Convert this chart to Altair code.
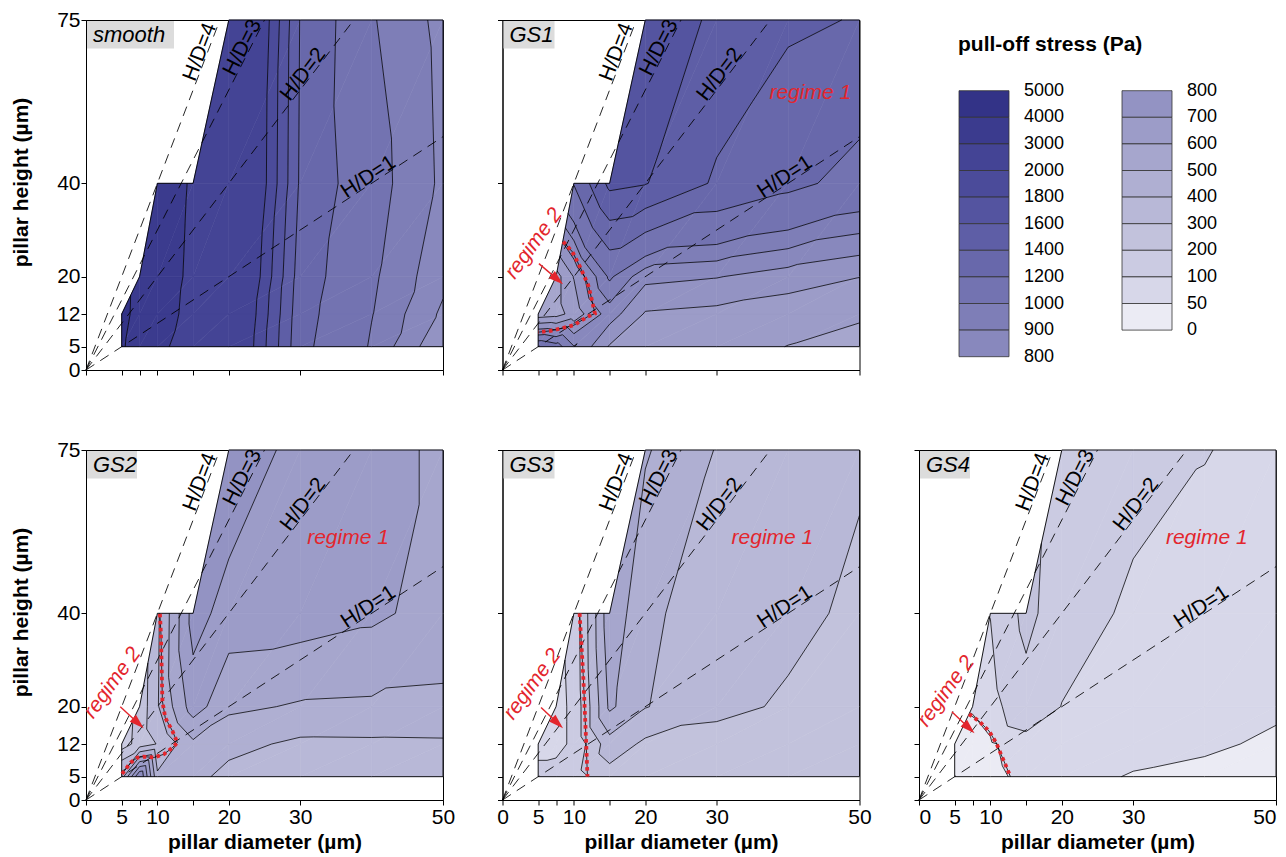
import math
import altair as alt
import pandas as pd

FONT = "Liberation Sans"
RED = "#e3262d"

# ---------------- measurement grid ----------------
D_NODES = [5, 7.5, 10, 15, 20, 30, 40, 50]      # pillar diameter (um)
H_NODES = [5, 12, 20, 40, 75]                   # pillar height (um)
N = None                                        # not fabricated

# pull-off stress (Pa), one row per height (H_NODES), one column per diameter
SMOOTH = [
    [4150, 3400, 3100, 2800, 2400, 1250, 985, 710],
    [4450, 3500, 3150, 2900, 2450, 1270, 1005, 780],
    [N, 3550, 3200, 2920, 2550, 1300, 1020, 830],
    [N, N, 3250, 2950, 2700, 1370, 1050, 880],
    [N, N, N, N, 2800, 1390, 1010, 870],
]
GS1 = [
    [1100, 1050, 905, 690, 660, 640, 598, 560],
    [540, 560, 640, 850, 690, 670, 640, 615],
    [N, 560, 705, 1020, 830, 805, 750, 702],
    [N, N, 1210, 1650, 1610, 1370, 1250, 1130],
    [N, N, N, N, 1750, 1560, 1430, 1390],
]
GS2 = [
    [450, 905, 420, 430, 370, 350, 345, 340],
    [150, 240, 305, 480, 430, 380, 382, 385],
    [N, 230, 390, 650, 520, 490, 485, 480],
    [N, N, 380, 740, 660, 650, 620, 560],
    [N, N, N, N, 780, 660, 620, 590],
]
GS3 = [
    [130, 140, 160, 260, 240, 230, 220, 210],
    [70, 70, 120, 360, 280, 270, 255, 240],
    [N, 70, 120, 520, 405, 320, 290, 270],
    [N, N, 130, 570, 424, 340, 320, 285],
    [N, N, N, N, 510, 395, 350, 310],
]
GS4 = [
    [25, 30, 40, 60, 60, 48, 42, 35],
    [25, 30, 45, 70, 75, 60, 55, 45],
    [N, 55, 70, 160, 98, 75, 65, 55],
    [N, N, 102, 230, 140, 85, 80, 70],
    [N, N, N, N, 160, 130, 102, 85],
]

# contour levels (Pa) and band colours (band i = LEVELS[i]..LEVELS[i+1])
LEVELS = [0, 50, 100, 200, 300, 400, 500, 600, 700, 800, 900, 1000,
          1200, 1400, 1600, 1800, 2000, 3000, 4000, 5000]
BAND_COLORS = [
    "#ebebf4", "#d7d7e9", "#cbcbe2", "#c2c2dc", "#b8b8d7", "#afafd2",
    "#a6a6cd", "#9c9cc8", "#9393c3", "#8888bd", "#7e7eb7", "#7373b1",
    "#6868ab", "#5e5ea6", "#5454a0", "#4b4b9a", "#444495", "#3b3b8e",
    "#333387",
]

# aspect-ratio guide lines
HD_RATIOS = [1, 2, 3, 4]
HD_LABEL_D = [40.1, 31.2, 22.8, 16.9]

XTICKS = [0, 5, 7.5, 10, 15, 20, 30, 50]
YTICKS = [0, 5, 12, 20, 40, 75]

# regime-2 boundary (red dotted) paths
RED_GS1_D = [8.5, 9.8, 10.95, 12.0, 12.35, 12.95, 11.9, 10.0, 8.15, 6.75, 5.0]
RED_GS1_H = [27.5, 25.3, 21.8, 18.2, 16.1, 12.1, 11.4, 9.6, 8.9, 8.4, 8.1]
RED_GS2_D = [10.35, 10.5, 10.7, 11.1, 12.1, 12.8, 12.1, 10.9, 9.5, 8.1, 7.2, 6.25, 5.0]
RED_GS2_H = [39.9, 35.5, 21.2, 17.6, 14.8, 12.3, 11.2, 9.8, 9.1, 9.3, 9.1, 8.0, 5.5]
RED_GS3_D = [10.8, 11.3, 11.65, 11.9]
RED_GS3_H = [40.0, 26.9, 14.8, 5.0]
RED_GS4_D = [7.0, 8.4, 9.8, 10.8, 11.4, 12.1, 12.8]
RED_GS4_H = [18.4, 16.9, 14.8, 12.3, 10.1, 7.6, 5.0]

# arrows (start D, start H, end D, end H)
ARROW_GS1 = [5.1, 22.8, 8.4, 18.5]
ARROW_GS2 = [4.8, 20.0, 8.0, 15.5]
ARROW_GS3 = [5.4, 19.8, 8.4, 15.5]
ARROW_GS4 = [4.6, 18.9, 7.7, 14.4]

# label centres (D, H)
REG2_GS1 = [4.4, 27.1]
REG2_GS2 = [3.7, 25.1]
REG2_GS3 = [4.2, 24.8]
REG2_GS4 = [3.8, 23.3]
REG1_GS1 = [43.1, 59.3]
REG1_GS2 = [36.7, 56.1]
REG1_GS3 = [37.8, 56.1]
REG1_GS4 = [40.3, 56.1]

W, HGT = 357, 350
KX, KY = W / 50.0, HGT / 75.0


# ---------------- triangulated linear contouring ----------------
def tri_list(grid):
    out = []
    for j in range(len(H_NODES) - 1):
        for i in range(len(D_NODES) - 1):
            a, b, c, d = (i, j), (i + 1, j), (i + 1, j + 1), (i, j + 1)
            for tri in ((a, b, c), (a, c, d)):
                if all(grid[q][p] is not None for p, q in tri):
                    out.append([(D_NODES[p], H_NODES[q], float(grid[q][p])) for p, q in tri])
    return out


def clip(poly, level, above):
    res = []
    n = len(poly)
    for k in range(n):
        p, q = poly[k], poly[(k + 1) % n]
        pin = (p[2] >= level) if above else (p[2] <= level)
        qin = (q[2] >= level) if above else (q[2] <= level)
        if pin:
            res.append(p)
        if pin != qin:
            t = (level - p[2]) / (q[2] - p[2])
            res.append((p[0] + t * (q[0] - p[0]), p[1] + t * (q[1] - p[1]), level))
    return res


def poly_area(poly):
    s = 0.0
    for k in range(len(poly)):
        x1, y1 = poly[k][0], poly[k][1]
        x2, y2 = poly[(k + 1) % len(poly)][0], poly[(k + 1) % len(poly)][1]
        s += x1 * y2 - x2 * y1
    return abs(s) / 2


def fill_rows(tris):
    rows = []
    pid = 0
    for tri in tris:
        for b in range(len(LEVELS) - 1):
            poly = clip(clip(tri, LEVELS[b], True), LEVELS[b + 1], False)
            if len(poly) >= 3 and poly_area(poly) > 1e-6:
                for k, pt in enumerate(poly + [poly[0]]):
                    rows.append(dict(pid=pid, k=k, x=pt[0], y=pt[1], band=b))
                pid += 1
    return pd.DataFrame(rows)


def seg_rows(tris):
    rows = []
    for tri in tris:
        for lev in LEVELS[1:-1]:
            pts = []
            for k in range(3):
                p, q = tri[k], tri[(k + 1) % 3]
                if (p[2] - lev) * (q[2] - lev) < 0:
                    t = (lev - p[2]) / (q[2] - p[2])
                    pts.append((p[0] + t * (q[0] - p[0]), p[1] + t * (q[1] - p[1])))
            if len(pts) == 2:
                rows.append(dict(x=pts[0][0], y=pts[0][1], x2=pts[1][0], y2=pts[1][1]))
    return pd.DataFrame(rows, columns=["x", "y", "x2", "y2"])


def edge_rows(tris):
    cnt = {}
    for tri in tris:
        for k in range(3):
            p, q = tri[k][:2], tri[(k + 1) % 3][:2]
            key = tuple(sorted([p, q]))
            cnt[key] = cnt.get(key, 0) + 1
    rows = [dict(x=a[0], y=a[1], x2=b[0], y2=b[1]) for (a, b), c in cnt.items() if c == 1]
    return pd.DataFrame(rows)


BAND_SCALE = alt.Scale(domain=list(range(len(BAND_COLORS))), range=BAND_COLORS)


def make_panel(name, grid, box_w, red=None, arrow=None, reg2=None, reg1=None,
               xlab=False, ylab=False, flush=False):
    tris = tri_list(grid)
    xs = alt.Scale(domain=[0, 50], nice=False, zero=False)
    ys = alt.Scale(domain=[0, 75], nice=False, zero=False)
    xaxis = alt.Axis(values=XTICKS, labels=xlab, labelFlush=flush,
                     title="pillar diameter (µm)" if xlab else None,
                     labelExpr="(datum.value == 7.5 || datum.value == 15) ? '' : datum.label")
    yaxis = alt.Axis(values=YTICKS, labels=ylab,
                     title="pillar height (µm)" if ylab else None, titleY=162)

    def X(f):
        return alt.X(f, type="quantitative", scale=xs, axis=xaxis)

    def Y(f):
        return alt.Y(f, type="quantitative", scale=ys, axis=yaxis)

    layers = []
    fills = fill_rows(tris)
    layers.append(
        alt.Chart(fills).mark_line(strokeWidth=0.6, strokeJoin="round").encode(
            x=X("x"), y=Y("y"), detail="pid:N", order="k:Q",
            fill=alt.Fill("band:N", scale=BAND_SCALE, legend=None),
            stroke=alt.Stroke("band:N", scale=BAND_SCALE, legend=None),
        )
    )
    layers.append(
        alt.Chart(seg_rows(tris)).mark_rule(color="black", strokeWidth=0.75).encode(
            x=X("x"), y=Y("y"), x2="x2", y2="y2")
    )
    layers.append(
        alt.Chart(edge_rows(tris)).mark_rule(color="black", strokeWidth=0.9).encode(
            x=X("x"), y=Y("y"), x2="x2", y2="y2")
    )
    # H/D guide lines
    hd = pd.DataFrame({
        "x": [0.0] * 4, "y": [0.0] * 4,
        "x2": [min(50.0, 75.0 / r) for r in HD_RATIOS],
        "y2": [r * min(50.0, 75.0 / r) for r in HD_RATIOS],
    })
    layers.append(
        alt.Chart(hd).mark_rule(color="black", strokeWidth=0.85, strokeDash=[10, 7]).encode(
            x=X("x"), y=Y("y"), x2="x2", y2="y2")
    )
    hdl = pd.DataFrame({
        "x": HD_LABEL_D,
        "y": [r * d for r, d in zip(HD_RATIOS, HD_LABEL_D)],
        "t": ["H/D=%d" % r for r in HD_RATIOS],
        "ang": [360 - math.degrees(math.atan(r * KY / KX)) for r in HD_RATIOS],
    })
    layers.append(
        alt.Chart(hdl).mark_text(font=FONT, fontSize=21, baseline="alphabetic",
                                 align="center", dy=-1, clip=True).encode(
            x=X("x"), y=Y("y"), text="t:N", angle=alt.Angle("ang:Q", scale=None))
    )
    if red is not None:
        rd = pd.DataFrame({"x": red[0], "y": red[1], "k": list(range(len(red[0])))})
        layers.append(alt.Chart(rd).mark_line(color="black", strokeWidth=0.8).encode(
            x=X("x"), y=Y("y"), order="k:Q"))
        layers.append(alt.Chart(rd).mark_line(color=RED, strokeWidth=3.8,
                                              strokeDash=[3.5, 3.5]).encode(
            x=X("x"), y=Y("y"), order="k:Q"))
    if arrow is not None:
        x0, y0, x1, y1 = arrow
        dxp, dyp = (x1 - x0) * KX, (y1 - y0) * KY
        L = math.hypot(dxp, dyp)
        ux, uy = dxp / L, dyp / L
        head = 7.0
        ar = pd.DataFrame({"x": [x0], "y": [y0], "x2": [x1 - ux * head / KX],
                           "y2": [y1 - uy * head / KY]})
        layers.append(alt.Chart(ar).mark_rule(color=RED, strokeWidth=1.4).encode(
            x=X("x"), y=Y("y"), x2="x2", y2="y2"))
        ang = (90 + math.degrees(math.atan2(-dyp, dxp))) % 360
        ah = pd.DataFrame({"x": [x1 - ux * head / KX], "y": [y1 - uy * head / KY], "ang": [ang]})
        layers.append(alt.Chart(ah).mark_point(
            shape="M0,-1L0.6,0.9L-0.6,0.9Z", filled=True, color=RED, size=240, opacity=1
        ).encode(x=X("x"), y=Y("y"), angle=alt.Angle("ang:Q", scale=None)))
    if reg2 is not None:
        t2 = pd.DataFrame({"x": [reg2[0]], "y": [reg2[1]], "t": ["regime 2"]})
        layers.append(alt.Chart(t2).mark_text(
            font=FONT, fontSize=21, fontStyle="italic", color=RED, angle=306,
            align="center", baseline="middle", clip=True).encode(x=X("x"), y=Y("y"), text="t:N"))
    if reg1 is not None:
        t1 = pd.DataFrame({"x": [reg1[0]], "y": [reg1[1]], "t": ["regime 1"]})
        layers.append(alt.Chart(t1).mark_text(
            font=FONT, fontSize=21, fontStyle="italic", color=RED,
            align="center", baseline="middle").encode(x=X("x"), y=Y("y"), text="t:N"))
    # panel name tag
    tag = pd.DataFrame({"t": [name]})
    layers.append(alt.Chart(tag).mark_rect(color="#dcdcdc").encode(
        x=alt.value(1), x2=alt.value(box_w), y=alt.value(1), y2=alt.value(28.5)))
    layers.append(alt.Chart(tag).mark_text(
        font=FONT, fontSize=22, fontStyle="italic", align="left", baseline="middle",
        color="black").encode(x=alt.value(7), y=alt.value(15), text="t:N"))
    return alt.layer(*layers).properties(width=W, height=HGT)


def make_legend():
    LW, LH = 330, 350
    top, bh, bw = 70.7, 26.6, 50
    lx, rx = 40, 203
    rows = []
    for s in range(10):
        rows.append(dict(x=lx, x2=lx + bw, y=top + s * bh, y2=top + (s + 1) * bh, band=18 - s))
    for s in range(9):
        rows.append(dict(x=rx, x2=rx + bw, y=top + s * bh, y2=top + (s + 1) * bh, band=8 - s))
    boxes = pd.DataFrame(rows)
    labs = []
    for s in range(11):
        labs.append(dict(x=lx + bw + 15, y=top + s * bh, t=str(LEVELS[19 - s])))
    for s in range(10):
        labs.append(dict(x=rx + bw + 15, y=top + s * bh, t=str(LEVELS[9 - s])))
    labs = pd.DataFrame(labs)
    xs = alt.Scale(domain=[0, LW], nice=False, zero=False)
    ys = alt.Scale(domain=[0, LH], nice=False, zero=False, reverse=True)
    b = alt.Chart(boxes).mark_rect(stroke="#333333", strokeWidth=0.8).encode(
        x=alt.X("x:Q", scale=xs, axis=None), x2="x2",
        y=alt.Y("y:Q", scale=ys, axis=None), y2="y2",
        fill=alt.Fill("band:N", scale=BAND_SCALE, legend=None))
    t = alt.Chart(labs).mark_text(font=FONT, fontSize=18, align="left", baseline="middle",
                                  color="black").encode(
        x=alt.X("x:Q", scale=xs, axis=None), y=alt.Y("y:Q", scale=ys, axis=None), text="t:N")
    ttl = alt.Chart(pd.DataFrame({"x": [39], "y": [31], "t": ["pull-off stress (Pa)"]})).mark_text(
        font=FONT, fontSize=21, fontWeight="bold", align="left", baseline="alphabetic",
        color="black").encode(
        x=alt.X("x:Q", scale=xs, axis=None), y=alt.Y("y:Q", scale=ys, axis=None), text="t:N")
    return alt.layer(b, t, ttl).properties(width=LW, height=LH,
                                           view=alt.ViewBackground(strokeOpacity=0))


p_smooth = make_panel("smooth", SMOOTH, 88, ylab=True)
p_gs1 = make_panel("GS1", GS1, 52, red=(RED_GS1_D, RED_GS1_H), arrow=ARROW_GS1,
                   reg2=REG2_GS1, reg1=REG1_GS1)
p_gs2 = make_panel("GS2", GS2, 51, red=(RED_GS2_D, RED_GS2_H), arrow=ARROW_GS2,
                   reg2=REG2_GS2, reg1=REG1_GS2, xlab=True, ylab=True)
p_gs3 = make_panel("GS3", GS3, 52, red=(RED_GS3_D, RED_GS3_H), arrow=ARROW_GS3,
                   reg2=REG2_GS3, reg1=REG1_GS3, xlab=True)
p_gs4 = make_panel("GS4", GS4, 51, red=(RED_GS4_D, RED_GS4_H), arrow=ARROW_GS4,
                   reg2=REG2_GS4, reg1=REG1_GS4, xlab=True, flush=True)

row1 = alt.hconcat(p_smooth, p_gs1, make_legend(), spacing=59.5, bounds="flush")
row2 = alt.hconcat(p_gs2, p_gs3, p_gs4, spacing=59.5, bounds="flush")

chart = alt.vconcat(row1, row2, spacing=57).properties(
    padding={"left": 2, "top": 0, "right": 0, "bottom": 0}
).configure_view(stroke="black", strokeWidth=1).configure_axis(
    labelFont=FONT, titleFont=FONT, labelFontSize=21, titleFontSize=21,
    titleFontWeight="bold", labelColor="black", titleColor="black",
    domainColor="black", tickColor="black", tickSize=5, grid=False,
    labelPadding=1, labelFlush=False, labelOverlap=False, domainWidth=1, tickWidth=1,
).configure_axisY(titlePadding=25).configure_axisX(titlePadding=4)

chart.save("out.html", embed_options={"renderer": "svg", "actions": False})
